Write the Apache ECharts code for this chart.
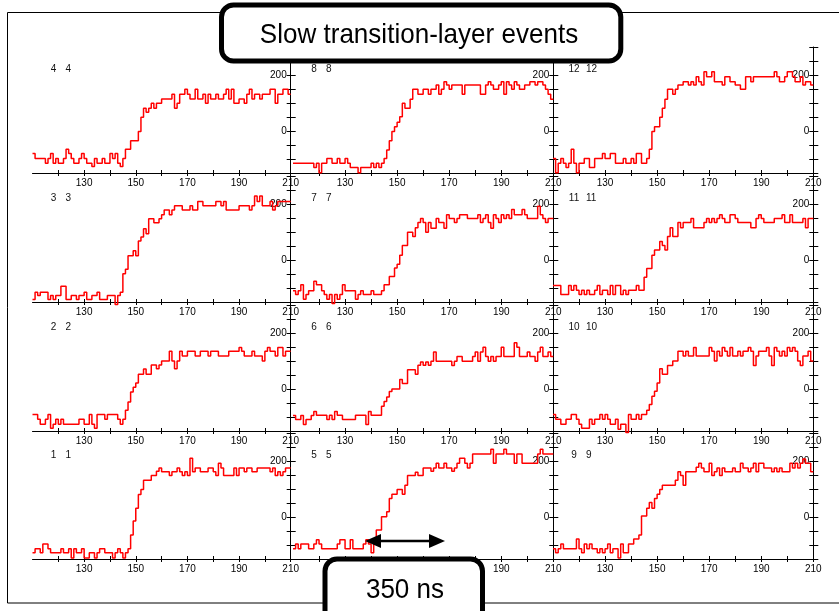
<!DOCTYPE html>
<html>
<head>
<meta charset="utf-8">
<title>Slow transition-layer events</title>
<script src="https://cdn.jsdelivr.net/npm/echarts@6/dist/echarts.min.js"></script>
<style>
  html, body { margin: 0; padding: 0; background: #fff; }
  #chart { width: 839px; height: 611px; }
</style>
</head>
<body>
<div id="chart"></div>
<script>
// one value per 1-unit time bin, first bin starts at binStart
const binStart = 110;

const p1 = [-128,-113,-113,-128,-96,-96,-113,-128,-128,-128,
  -128,-113,-128,-128,-113,-146,-113,-128,-128,-113,
  -146,-146,-128,-128,-146,-128,-113,-113,-128,-128,
  -128,-146,-128,-113,-128,-146,-128,-113,-64,-14,
  31,80,98,131,131,131,148,148,163,175,
  162,162,162,148,162,162,175,162,148,162,
  148,210,162,175,175,162,162,162,175,175,
  162,148,192,175,148,148,148,148,175,148,
  175,175,162,175,175,162,162,175,175,175,
  175,175,162,175,148,162,148,162,175,175];

const p2 = [-91,-91,-108,-126,-126,-108,-91,-140,-126,-108,
  -126,-108,-126,-126,-126,-126,-126,-126,-108,-108,
  -126,-126,-91,-126,-140,-91,-91,-91,-108,-91,
  -91,-91,-91,-108,-126,-108,-76,-46,-11,6,
  21,53,53,71,53,53,86,86,72,86,
  100,100,100,135,100,72,100,135,118,118,
  135,135,135,118,118,135,135,135,118,135,
  135,135,118,118,118,118,135,135,135,135,
  148,135,118,118,118,135,118,118,118,100,
  135,148,135,135,118,148,148,118,135,135];

const p3 = [-141,-115,-127,-115,-115,-115,-141,-127,-141,-127,
  -127,-94,-94,-141,-141,-127,-127,-141,-127,-127,
  -115,-141,-141,-127,-127,-115,-141,-141,-141,-127,
  -127,-127,-159,-127,-115,-49,-33,15,15,33,
  15,68,82,112,94,147,147,133,133,147,
  162,179,179,162,179,194,194,194,179,179,
  179,194,179,179,209,209,194,194,194,194,
  194,209,209,194,209,179,179,179,179,179,
  194,194,194,194,179,194,229,209,229,194,
  194,194,209,179,194,209,209,209,209,209];

const p4 = [-80,-98,-98,-98,-98,-115,-98,-80,-115,-98,
  -115,-115,-98,-65,-80,-98,-115,-115,-98,-80,
  -98,-115,-115,-127,-98,-115,-115,-98,-115,-115,
  -80,-98,-80,-115,-127,-98,-65,-65,-35,-35,
  -35,-2,49,81,67,81,99,81,99,99,
  114,114,114,114,131,81,99,131,131,149,
  131,114,114,149,114,114,131,99,131,114,
  114,131,114,114,131,149,114,149,99,99,
  114,114,99,131,149,114,131,131,114,131,
  131,131,149,149,99,131,131,149,149,131];

const p5 = [-113,-96,-113,-96,-96,-96,-113,-113,-96,-81,
  -96,-113,-113,-113,-113,-113,-113,-96,-81,-81,
  -113,-113,-81,-113,-113,-113,-113,-96,-81,-96,
  -128,-81,-46,-46,1,1,19,66,81,81,
  98,98,81,113,148,148,148,160,148,148,
  175,175,175,163,175,192,175,175,192,175,
  175,163,175,192,210,210,192,175,192,225,
  225,225,225,225,225,225,242,192,225,225,
  225,242,225,225,225,192,225,225,192,192,
  192,192,192,192,225,242,225,225,225,225];

const p6 = [-95,-109,-109,-95,-127,-109,-109,-95,-80,-94,
  -94,-94,-94,-109,-94,-109,-80,-94,-94,-109,
  -109,-109,-109,-109,-94,-94,-94,-94,-127,-80,
  -94,-94,-94,-94,-62,-45,-29,-9,0,0,
  0,34,20,20,69,69,69,53,85,96,
  85,96,85,99,132,99,99,99,99,99,
  99,84,99,116,116,99,99,99,99,116,
  132,99,132,149,116,99,116,99,116,116,
  149,116,116,116,116,165,149,116,116,116,
  132,116,116,99,132,149,116,116,132,116];

const p7 = [-110,-123,-110,-88,-140,-123,-110,-110,-76,-88,
  -88,-110,-123,-140,-123,-155,-123,-140,-123,-88,
  -110,-110,-110,-110,-140,-123,-110,-123,-123,-123,
  -110,-123,-123,-123,-110,-88,-88,-59,-59,-29,
  -15,17,52,52,99,99,84,115,134,148,
  134,99,134,113,113,148,134,134,113,162,
  148,148,134,148,162,162,162,148,148,148,
  148,162,134,148,162,134,113,162,148,134,
  162,148,162,148,180,162,162,162,180,162,
  148,148,148,148,192,162,148,134,148,148];

const p8 = [-115,-115,-115,-115,-115,-115,-115,-115,-130,-115,
  -149,-115,-115,-98,-98,-115,-115,-98,-115,-115,
  -98,-115,-130,-130,-130,-149,-130,-130,-130,-130,
  -115,-130,-115,-130,-115,-98,-68,-35,-2,15,
  31,51,99,81,81,113,149,149,131,131,
  149,149,131,149,149,164,131,149,176,164,
  149,164,164,164,164,131,164,164,164,164,
  164,164,131,131,164,176,164,149,149,164,
  176,131,176,164,149,176,164,149,149,164,
  164,176,176,164,176,176,164,149,131,113];

const p9 = [-113,-128,-113,-96,-113,-113,-113,-113,-113,-79,
  -113,-128,-96,-113,-96,-113,-113,-128,-113,-128,
  -113,-96,-128,-113,-113,-146,-96,-128,-128,-96,
  -96,-79,-79,-64,4,4,31,52,31,66,
  81,98,113,113,113,113,113,131,162,148,
  113,162,162,162,162,178,192,175,162,162,
  192,148,162,175,148,175,162,162,162,175,
  162,162,192,175,175,162,175,192,162,192,
  192,175,175,175,162,175,162,175,162,162,
  162,192,175,192,175,192,207,192,192,162];

const p10 = [-91,-108,-108,-126,-126,-108,-108,-91,-91,-108,
  -126,-140,-140,-140,-108,-126,-108,-108,-91,-108,
  -91,-108,-126,-126,-108,-144,-126,-126,-155,-91,
  -108,-108,-91,-108,-91,-91,-76,-55,-26,-8,
  21,72,53,53,84,84,100,100,135,135,
  118,135,118,118,148,118,118,118,118,118,
  148,135,100,135,118,148,135,118,148,118,
  118,135,118,135,135,148,135,84,118,135,
  135,135,148,118,84,148,135,118,135,118,
  148,135,148,135,100,84,118,118,135,100];

const p11 = [-91,-91,-91,-123,-123,-123,-91,-108,-91,-108,
  -123,-108,-123,-108,-123,-123,-108,-91,-123,-108,
  -108,-123,-91,-123,-91,-91,-123,-108,-123,-108,
  -108,-108,-91,-108,-108,-62,-30,-30,17,36,
  36,66,52,36,84,115,84,84,134,115,
  134,134,134,148,115,115,115,115,134,148,
  134,148,134,148,162,148,134,134,162,162,
  148,134,134,134,134,134,115,115,148,162,
  148,134,134,134,134,148,148,148,162,134,
  134,162,134,134,134,134,148,115,148,148];

const p12 = [-98,-149,-115,-98,-115,-130,-115,-65,-115,-149,
  -115,-115,-98,-98,-130,-130,-98,-98,-98,-80,
  -98,-98,-80,-80,-115,-115,-115,-98,-115,-115,
  -98,-115,-80,-80,-115,-115,-98,-65,-2,15,
  15,49,81,113,149,149,131,149,164,164,
  176,176,164,176,164,194,176,164,212,194,
  194,212,176,176,176,164,194,194,176,176,
  164,164,149,149,194,194,176,194,194,194,
  194,194,194,194,194,212,194,176,176,194,
  212,212,194,176,176,194,164,176,176,164];

// panels as they sit on the page, row by row
const panelIds = [4, 8, 12, 3, 7, 11, 2, 6, 10, 1, 5, 9];
const panelData = { 1: p1, 2: p2, 3: p3, 4: p4, 5: p5, 6: p6, 7: p7, 8: p8, 9: p9, 10: p10, 11: p11, 12: p12 };

// tick positions and labels
const xTicks = [120, 130, 140, 150, 160, 170, 180, 190, 200, 210];
const xTickLabels = [130, 150, 170, 190, 210];
const yTicks = [-150, -100, -50, 0, 50, 100, 150, 200, 250, 300];
const yTickLabels = [0, 200];

// layout of the 4x3 grid (pixels)
const colLeft = [32.5, 293, 553];
const colWidth = [258.2, 260.3, 260.3];
const rowTop = [47, 176, 305, 433];
const rowHeight = 126;

const font = "'Liberation Sans', Arial, sans-serif";
const chart = echarts.init(document.getElementById('chart'));

const grids = [];
const xAxes = [];
const yAxes = [];
const series = [];
const texts = [];

panelIds.forEach((id, k) => {
  const r = Math.floor(k / 3);
  const c = k % 3;
  const vals = panelData[id];
  grids.push({ left: colLeft[c], top: rowTop[r], width: colWidth[c], height: rowHeight });

  const xBase = {
    gridIndex: k, type: 'value', position: 'bottom', min: 110, max: 210, interval: 10,
    splitLine: { show: false }
  };
  // outer ticks + labels
  xAxes.push(Object.assign({}, xBase, {
    axisLine: { show: true, onZero: false, lineStyle: { color: '#000', width: 1 } },
    axisTick: { show: true, inside: false, length: 3, customValues: xTicks, lineStyle: { color: '#000' } },
    axisLabel: { show: true, customValues: xTickLabels, margin: 5, fontSize: 10, color: '#000', fontFamily: font }
  }));
  // inner half of the crossing ticks
  xAxes.push(Object.assign({}, xBase, {
    axisLine: { show: false, onZero: false },
    axisTick: { show: true, inside: true, length: 3, customValues: xTicks, lineStyle: { color: '#000' } },
    axisLabel: { show: false }
  }));

  const yBase = {
    gridIndex: k, type: 'value', position: 'right', min: -150, max: 300, interval: 50,
    splitLine: { show: false }
  };
  yAxes.push(Object.assign({}, yBase, {
    axisLine: { show: true, onZero: false, lineStyle: { color: '#000', width: 1 } },
    axisTick: { show: true, inside: false, length: 5, customValues: yTicks, lineStyle: { color: '#000' } },
    axisLabel: { show: true, inside: true, customValues: yTickLabels, margin: 4, fontSize: 10, color: '#000', fontFamily: font }
  }));
  yAxes.push(Object.assign({}, yBase, {
    axisLine: { show: false, onZero: false },
    axisTick: { show: true, inside: true, length: 4, customValues: yTicks, lineStyle: { color: '#000' } },
    axisLabel: { show: false }
  }));

  const pts = vals.map((v, i) => [binStart + i, v]);
  pts.push([binStart + vals.length, vals[vals.length - 1]]);
  series.push({
    type: 'line',
    xAxisIndex: 2 * k,
    yAxisIndex: 2 * k,
    step: 'end',
    showSymbol: false,
    clip: false,
    data: pts,
    lineStyle: { color: '#ff0000', width: 1.5 },
    itemStyle: { color: '#ff0000' }
  });

  // panel name, written twice like the original
  const ty = rowTop[r] + 22;
  texts.push({ type: 'text', x: colLeft[c] + 21, y: ty,
    style: { text: String(id), fontSize: 10, fontFamily: font, fill: '#111', align: 'center', verticalAlign: 'middle' } });
  texts.push({ type: 'text', x: colLeft[c] + 33, y: ty,
    style: { text: String(id), fontSize: 10, fontFamily: font, fill: '#111', align: 'left', verticalAlign: 'middle' } });
});

const option = {
  animation: false,
  backgroundColor: '#fff',
  grid: grids,
  xAxis: xAxes,
  yAxis: yAxes,
  series: series,
  graphic: [
    // outer frame
    { type: 'rect', z: 0, shape: { x: 7.5, y: 12.5, width: 850, height: 590.5 },
      style: { fill: 'none', stroke: '#000', lineWidth: 1 } },
    ...texts,
    // title box
    { type: 'rect', z: 100, shape: { x: 221.5, y: 5, width: 399.3, height: 56, r: 12 },
      style: { fill: '#fff', stroke: '#000', lineWidth: 5 } },
    { type: 'text', z: 101, x: 419, y: 35, scaleX: 0.93,
      style: { text: 'Slow transition-layer events', fontSize: 28, fontFamily: font, fill: '#000', align: 'center', verticalAlign: 'middle' } },
    // duration arrow
    { type: 'line', z: 100, shape: { x1: 376, y1: 541, x2: 434, y2: 541 },
      style: { stroke: '#000', lineWidth: 2.5 } },
    { type: 'polygon', z: 100, shape: { points: [[365, 541], [381, 534], [381, 548]] },
      style: { fill: '#000' } },
    { type: 'polygon', z: 100, shape: { points: [[445, 541], [429, 534], [429, 548]] },
      style: { fill: '#000' } },
    // duration box
    { type: 'rect', z: 100, shape: { x: 325, y: 559, width: 157.5, height: 80, r: 12 },
      style: { fill: '#fff', stroke: '#000', lineWidth: 5 } },
    { type: 'text', z: 101, x: 405, y: 590, scaleX: 0.93,
      style: { text: '350 ns', fontSize: 28, fontFamily: font, fill: '#000', align: 'center', verticalAlign: 'middle' } }
  ]
};

chart.setOption(option);
</script>
</body>
</html>
